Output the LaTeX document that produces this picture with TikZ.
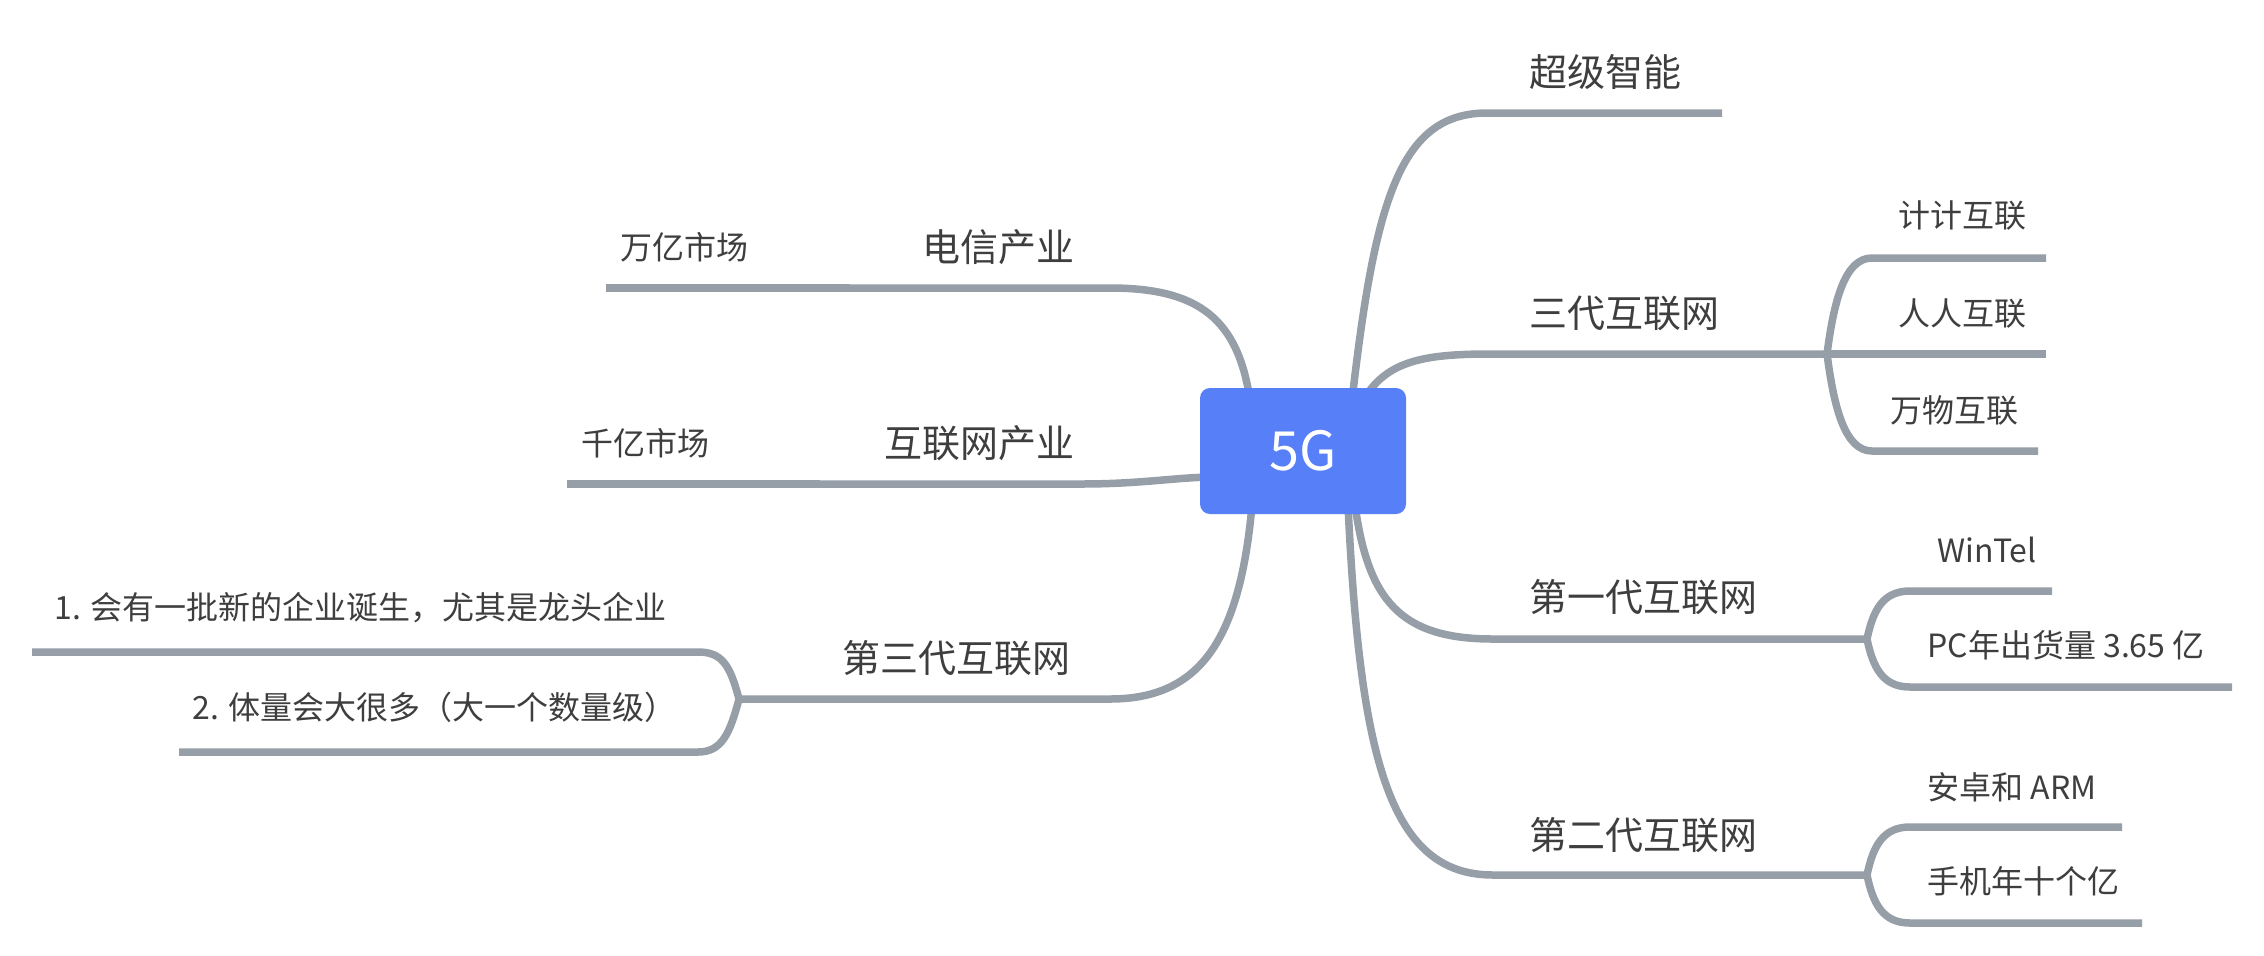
\documentclass[tikz,border=0pt]{standalone}
\usepackage{fontspec}
\setmainfont{Noto Sans CJK SC}
\usetikzlibrary{backgrounds}
\definecolor{linec}{RGB}{150,158,168}
\definecolor{boxc}{RGB}{87,128,248}
\definecolor{txtc}{RGB}{62,62,62}
\begin{document}
\begin{tikzpicture}[x=0.5pt,y=-0.5pt,
  conn/.style={draw=linec,line width=3.75pt},
  mainlbl/.style={inner sep=0pt,text=txtc,font=\fontsize{19pt}{23pt}\selectfont},
  sublbl/.style={inner sep=0pt,text=txtc,font=\fontsize{16pt}{19pt}\selectfont},
  rootbox/.style={fill=boxc,rounded corners=5pt,minimum width=103pt,minimum height=63pt,text=white,font=\fontsize{27pt}{32pt}\selectfont,inner sep=0pt}]
\useasboundingbox (0,0) rectangle (2264,955);

% root
\node[rootbox] (root) at (1303,451) {5G};

% labels right
\node[mainlbl,anchor=west] (n1) at (1529,72) {超级智能};
\node[mainlbl,anchor=west] (n2) at (1529,313) {三代互联网};
\node[mainlbl,anchor=west] (n3) at (1529,597) {第一代互联网};
\node[mainlbl,anchor=west] (n4) at (1529,835) {第二代互联网};
\node[sublbl,anchor=west] (n21) at (1898,216) {计计互联};
\node[sublbl,anchor=west] (n22) at (1898,314) {人人互联};
\node[sublbl,anchor=west] (n23) at (1890,410) {万物互联};
\node[sublbl,anchor=west] (n31) at (1937,550) {WinTel};
\node[sublbl,anchor=west] (n32) at (1927,645) {PC年出货量 3.65 亿};
\node[sublbl,anchor=west] (n41) at (1927,787) {安卓和 ARM};
\node[sublbl,anchor=west] (n42) at (1927,881) {手机年十个亿};
% labels left
\node[mainlbl,anchor=east] (m1) at (1075,247) {电信产业};
\node[mainlbl,anchor=east] (m2) at (1075,443) {互联网产业};
\node[mainlbl,anchor=west] (m3) at (842,658) {第三代互联网};
\node[sublbl,anchor=west] (m11) at (620,247) {万亿市场};
\node[sublbl,anchor=west] (m21) at (581,443) {千亿市场};
\node[sublbl,anchor=west] (m31) at (54,608) {1. 会有一批新的企业诞生，尤其是龙头企业};
\node[sublbl,anchor=west] (m32) at (192,707) {2. 体量会大很多（大一个数量级）};

% connector points
\coordinate (s1) at (1352,400); \coordinate (e1) at (1487,113); \coordinate (t1) at (1722,113);
\coordinate (s2) at (1362,402); \coordinate (e2) at (1490,354); \coordinate (b2) at (1827,354);
\coordinate (c21) at (1872,258); \coordinate (t21) at (2046,258);
\coordinate (t22) at (2046,354);
\coordinate (c23) at (1872,451); \coordinate (t23) at (2038,451);
\coordinate (s3) at (1355,505); \coordinate (e3) at (1493,639); \coordinate (b3) at (1867,639);
\coordinate (c31) at (1910,591); \coordinate (t31) at (2052,591);
\coordinate (c32) at (1910,687); \coordinate (t32) at (2232,687);
\coordinate (s4) at (1348,505); \coordinate (e4) at (1493,875); \coordinate (b4) at (1867,875);
\coordinate (c41) at (1910,827); \coordinate (t41) at (2122,827);
\coordinate (c42) at (1910,923); \coordinate (t42) at (2142,923);
\coordinate (s5) at (1250,400); \coordinate (e5) at (1110,288); \coordinate (j5) at (850,288); \coordinate (t5) at (606,288);
\coordinate (s6) at (1210,477); \coordinate (e6) at (1080,484); \coordinate (j6) at (820,484); \coordinate (t6) at (567,484);
\coordinate (s7) at (1252,505); \coordinate (e7) at (1110,699); \coordinate (b7) at (739,699);
\coordinate (c71) at (698,652); \coordinate (t71) at (32,652);
\coordinate (c72) at (698,752); \coordinate (t72) at (179,752);

\begin{pgfonlayer}{background}
\draw[conn] (s1) .. controls (1375,200) and (1400,113) .. (e1) -- (t1);
\draw[conn] (s2) .. controls (1385,362) and (1420,354) .. (e2) -- (b2);
\draw[conn] (b2) .. controls (1834,300) and (1845,258) .. (c21) -- (t21);
\draw[conn] (b2) -- (t22);
\draw[conn] (b2) .. controls (1834,408) and (1845,451) .. (c23) -- (t23);
\draw[conn] (s3) .. controls (1368,600) and (1400,639) .. (e3) -- (b3);
\draw[conn] (b3) .. controls (1873,610) and (1883,591) .. (c31) -- (t31);
\draw[conn] (b3) .. controls (1873,668) and (1883,687) .. (c32) -- (t32);
\draw[conn] (s4) .. controls (1360,760) and (1390,875) .. (e4) -- (b4);
\draw[conn] (b4) .. controls (1873,846) and (1883,827) .. (c41) -- (t41);
\draw[conn] (b4) .. controls (1873,904) and (1883,923) .. (c42) -- (t42);
\draw[conn] (s5) .. controls (1238,320) and (1200,288) .. (e5) -- (j5);
\draw[conn] (j5) -- (t5);
\draw[conn] (s6) .. controls (1170,478) and (1140,484) .. (e6) -- (j6);
\draw[conn] (j6) -- (t6);
\draw[conn] (s7) .. controls (1240,640) and (1200,699) .. (e7) -- (b7);
\draw[conn] (b7) .. controls (730,665) and (722,652) .. (c71) -- (t71);
\draw[conn] (b7) .. controls (730,733) and (722,752) .. (c72) -- (t72);
\end{pgfonlayer}
\end{tikzpicture}
\end{document}
